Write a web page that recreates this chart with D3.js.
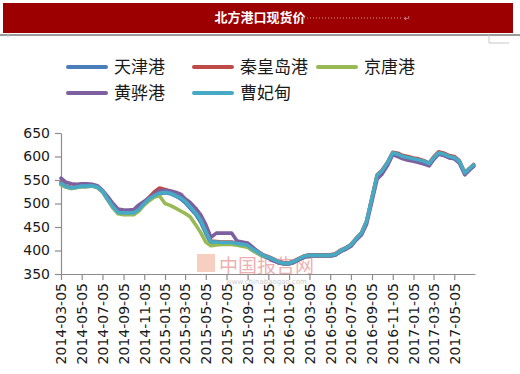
<!DOCTYPE html>
<html>
<head>
<meta charset="utf-8">
<script src="https://cdn.jsdelivr.net/npm/d3@7"></script>
<style>
    body { margin: 0; background: #fff; }
    svg { display: block; }
</style>
</head>
<body>
<script>
//wrap everything in an anonymous function so nothing lands in global scope
(function () {

    //series names, legend order
    var seriesNames = ["天津港", "秦皇岛港", "京唐港", "黄骅港", "曹妃甸"];
    var seriesColors = ["#4a7ebb", "#be4b48", "#98b954", "#7d60a0", "#46aac5"];

    //sample dates (about twice a month)
    var dates = [
        "2014-03-05", "2014-03-20", "2014-04-05", "2014-04-20", "2014-05-05", "2014-05-20",
        "2014-06-05", "2014-06-20", "2014-07-05", "2014-07-20", "2014-08-05", "2014-08-20",
        "2014-09-05", "2014-09-20", "2014-10-05", "2014-10-20", "2014-11-05", "2014-11-20",
        "2014-12-05", "2014-12-20", "2015-01-05", "2015-01-20", "2015-02-05", "2015-02-20",
        "2015-03-05", "2015-03-20", "2015-04-05", "2015-04-20", "2015-05-05", "2015-05-20",
        "2015-06-05", "2015-06-20", "2015-07-05", "2015-07-20", "2015-08-05", "2015-08-20",
        "2015-09-05", "2015-09-20", "2015-10-05", "2015-10-20", "2015-11-05", "2015-11-20",
        "2015-12-05", "2015-12-20", "2016-01-05", "2016-01-20", "2016-02-05", "2016-02-20",
        "2016-03-05", "2016-03-20", "2016-04-05", "2016-04-20", "2016-05-05", "2016-05-20",
        "2016-06-05", "2016-06-20", "2016-07-05", "2016-07-20", "2016-08-05", "2016-08-20",
        "2016-09-05", "2016-09-20", "2016-10-05", "2016-10-20", "2016-11-05", "2016-11-20",
        "2016-12-05", "2016-12-20", "2017-01-05", "2017-01-20", "2017-02-05", "2017-02-20",
        "2017-03-05", "2017-03-20", "2017-04-05", "2017-04-20", "2017-05-05", "2017-05-20",
        "2017-06-05", "2017-06-20", "2017-07-01"
    ];

    //prices, one list per port
    var tianjin = [
        540, 535, 532, 534, 536, 536, 537, 534, 525, 508, 491, 480,
        478, 478, 478, 486, 498, 508, 515, 520, 523, 521, 516, 510,
        502, 490, 477, 460, 436, 415, 415, 415, 415, 415, 413, 411,
        408, 400, 394, 388, 384, 379, 374, 371, 371, 375, 381, 386,
        388, 388, 388, 388, 388, 390, 398, 403, 410, 423, 435, 460,
        512, 558, 568, 585, 606, 603, 598, 595, 592, 590, 587, 582,
        595, 606, 603, 598, 596, 588, 563, 573, 580
    ];
    var qinhuangdao = [
        545, 537, 534, 536, 538, 538, 539, 536, 528, 511, 494, 482,
        479, 479, 479, 488, 502, 514, 525, 533, 530, 526, 520, 514,
        507, 495, 482, 467, 442, 420, 419, 418, 418, 418, 416, 414,
        412, 404, 398, 391, 387, 382, 377, 374, 374, 378, 384, 389,
        391, 391, 391, 391, 391, 393, 401, 406, 413, 426, 438, 463,
        513, 561, 571, 587, 609, 607, 602, 600, 597, 595, 591, 586,
        599, 610, 607, 602, 600, 591, 566, 576, 583
    ];
    var jingtang = [
        540, 535, 532, 534, 536, 536, 537, 534, 526, 509, 491, 478,
        476, 476, 476, 484, 497, 506, 514, 516, 500, 496, 490, 484,
        479, 472, 455, 438, 418, 410, 412, 413, 413, 413, 411, 409,
        407, 400, 394, 388, 384, 380, 375, 372, 372, 376, 382, 387,
        389, 389, 389, 389, 389, 391, 399, 404, 411, 425, 437, 462,
        510, 560, 568, 586, 607, 604, 599, 597, 594, 592, 589, 584,
        596, 607, 604, 599, 597, 589, 565, 575, 581
    ];
    var huanghua = [
        554, 545, 542, 541, 542, 542, 541, 538, 528, 515, 500, 488,
        486, 486, 487, 497, 505, 512, 520, 527, 528, 527, 524, 520,
        510, 502, 490, 476, 455, 428, 437, 437, 437, 437, 420, 418,
        416, 407, 398, 390, 384, 378, 374, 372, 372, 375, 381, 386,
        389, 389, 389, 389, 389, 391, 398, 403, 409, 422, 433, 456,
        505, 552, 563, 580, 604, 600, 595, 592, 590, 587, 584, 580,
        593, 605, 602, 597, 595, 586, 561, 572, 579
    ];
    var caofeidian = [
        543, 536, 533, 535, 537, 537, 538, 535, 527, 510, 493, 481,
        480, 480, 480, 487, 500, 510, 517, 522, 524, 522, 517, 512,
        505, 493, 480, 465, 440, 418, 418, 417, 417, 417, 415, 413,
        411, 403, 397, 390, 386, 381, 376, 373, 373, 377, 383, 388,
        390, 390, 390, 390, 390, 392, 400, 405, 412, 425, 437, 462,
        512, 560, 570, 586, 608, 605, 600, 598, 595, 593, 590, 585,
        597, 608, 605, 600, 598, 590, 565, 575, 582
    ];
    var seriesValues = [tianjin, qinhuangdao, jingtang, huanghua, caofeidian];

    //axis ticks
    var yTicks = [350, 400, 450, 500, 550, 600, 650];
    var xTickLabels = [
        "2014-03-05", "2014-05-05", "2014-07-05", "2014-09-05", "2014-11-05",
        "2015-01-05", "2015-03-05", "2015-05-05", "2015-07-05", "2015-09-05",
        "2015-11-05", "2016-01-05", "2016-03-05", "2016-05-05", "2016-07-05",
        "2016-09-05", "2016-11-05", "2017-01-05", "2017-03-05", "2017-05-05"
    ];

    var title = "北方港口现货价";

    window.onload = drawChart();

    function drawChart() {
        var width = 520,
            height = 374;

        var parseDate = d3.timeParse("%Y-%m-%d");

        var svg = d3.select("body")
            .append("svg")
            .attr("width", width)
            .attr("height", height);

        drawHeader(svg);

        //plot frame
        var x = d3.scaleTime()
            .domain([parseDate("2014-03-05"), parseDate("2017-07-05")])
            .range([61, 475]);

        var y = d3.scaleLinear()
            .domain([350, 650])
            .range([274, 133]);

        drawWatermark(svg);

        //y axis
        var yAxis = svg.append("g")
            .attr("class", "yAxis")
            .attr("transform", "translate(61,0)")
            .call(d3.axisLeft(y).tickValues(yTicks).tickSize(6).tickSizeOuter(0).tickPadding(5));

        //x axis
        var xAxis = svg.append("g")
            .attr("class", "xAxis")
            .attr("transform", "translate(0,274)")
            .call(d3.axisBottom(x)
                .tickValues(xTickLabels.map(parseDate))
                .tickFormat(d3.timeFormat("%Y-%m-%d"))
                .tickSize(6)
                .tickSizeOuter(0));

        svg.selectAll(".xAxis text")
            .attr("transform", "rotate(-90)")
            .attr("text-anchor", "end")
            .attr("x", -9)
            .attr("y", 0)
            .attr("dy", "0.35em");

        svg.selectAll(".xAxis path, .yAxis path, .xAxis line, .yAxis line")
            .attr("stroke", "#8c8c8c")
            .attr("stroke-width", 1.2);
        svg.selectAll(".xAxis text, .yAxis text")
            .attr("fill", "#1a1a1a")
            .style("font-family", "'DejaVu Sans', Verdana, sans-serif")
            .style("font-size", "14px");

        //lines, cyan ends up on top
        var line = d3.line()
            .x(function (d) { return x(d.date); })
            .y(function (d) { return y(d.value); });

        seriesValues.forEach(function (vals, i) {
            var pts = dates.map(function (dt, j) {
                return { date: parseDate(dt), value: vals[j] };
            });
            svg.append("path")
                .datum(pts)
                .attr("class", "series")
                .attr("fill", "none")
                .attr("stroke", seriesColors[i])
                .attr("stroke-width", 3.6)
                .attr("stroke-linejoin", "round")
                .attr("stroke-linecap", "round")
                .attr("d", line);
        });

        drawLegend(svg);
    };

    function drawHeader(svg) {
        svg.append("rect")
            .attr("x", 3)
            .attr("y", 3)
            .attr("width", 510)
            .attr("height", 30)
            .attr("fill", "#9c0000");

        svg.append("text")
            .attr("x", 260)
            .attr("y", 22)
            .attr("text-anchor", "middle")
            .attr("fill", "#fff")
            .style("font-family", "'Noto Sans CJK SC', sans-serif")
            .style("font-weight", "bold")
            .style("font-size", "13px")
            .text(title);

        //dotted leader after the title
        svg.append("line")
            .attr("x1", 304)
            .attr("x2", 403)
            .attr("y1", 18)
            .attr("y2", 18)
            .attr("stroke", "#d9a0a0")
            .attr("stroke-width", 1)
            .attr("stroke-dasharray", "1,2");

        svg.append("text")
            .attr("x", 404)
            .attr("y", 21)
            .attr("fill", "#d9a0a0")
            .style("font-family", "'DejaVu Sans', sans-serif")
            .style("font-size", "8px")
            .text("↵");

        //rule under the header and little table cell bits
        svg.append("line")
            .attr("x1", 0).attr("x2", 520)
            .attr("y1", 35).attr("y2", 35)
            .attr("stroke", "#7a7a7a")
            .attr("stroke-width", 1.5);

        svg.append("path")
            .attr("d", "M489,35V43H509")
            .attr("fill", "none")
            .attr("stroke", "#c8c8c8")
            .attr("stroke-width", 1);
        svg.append("path")
            .attr("d", "M8,33V37")
            .attr("fill", "none")
            .attr("stroke", "#c8c8c8")
            .attr("stroke-width", 1);
    }

    function drawLegend(svg) {
        var cols = [68, 194, 318];
        var rows = [67, 93];

        seriesNames.forEach(function (name, i) {
            var cx = cols[i % 3],
                cy = rows[Math.floor(i / 3)];

            svg.append("line")
                .attr("x1", cx)
                .attr("x2", cx + 38)
                .attr("y1", cy)
                .attr("y2", cy)
                .attr("stroke", seriesColors[i])
                .attr("stroke-width", 4)
                .attr("stroke-linecap", "round");

            svg.append("text")
                .attr("x", cx + 46)
                .attr("y", cy + 6)
                .attr("fill", "#1a1a1a")
                .style("font-family", "'Noto Sans CJK SC', sans-serif")
                .style("font-size", "17px")
                .text(name);
        });
    }

    function drawWatermark(svg) {
        var wm = svg.append("g").attr("class", "watermark").attr("opacity", 0.55);

        wm.append("rect")
            .attr("x", 197)
            .attr("y", 254)
            .attr("width", 18)
            .attr("height", 18)
            .attr("fill", "#f0a890");

        wm.append("text")
            .attr("x", 219)
            .attr("y", 273)
            .attr("fill", "#e07070")
            .style("font-family", "'Noto Sans CJK SC', sans-serif")
            .style("font-size", "19px")
            .text("中国报告网");

        wm.append("text")
            .attr("x", 226)
            .attr("y", 284)
            .attr("fill", "#a0a0a0")
            .style("font-family", "'DejaVu Sans', sans-serif")
            .style("font-size", "7px")
            .text("www.chinabaogao.com");
    }

})();
</script>
</body>
</html>
